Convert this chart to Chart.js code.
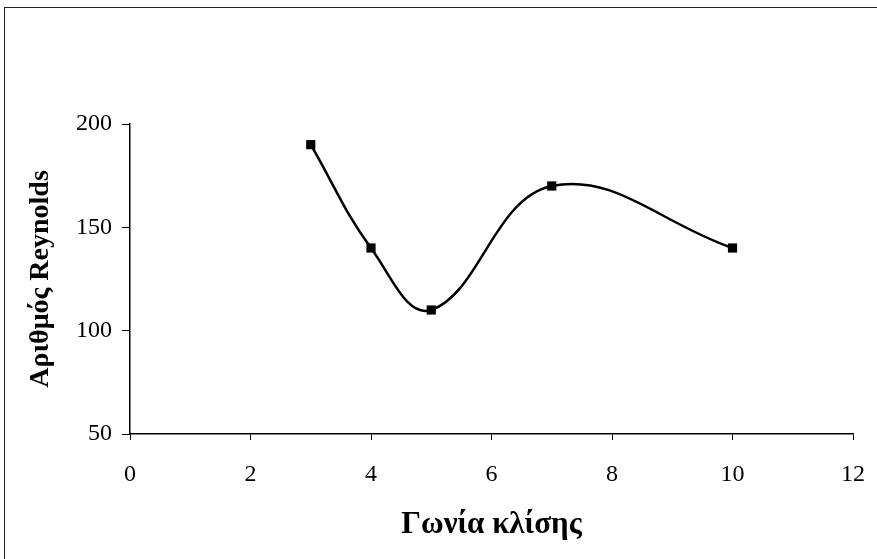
<!DOCTYPE html>
<html>
<head>
<meta charset="utf-8">
<script src="https://cdn.jsdelivr.net/npm/chart.js@4/dist/chart.umd.min.js"></script>
<style>
  html, body { margin: 0; padding: 0; background: #fff; }
  #wrap { position: relative; width: 877px; height: 559px; overflow: hidden; }
  #frame { position: absolute; left: 4px; top: 7px; width: 900px; height: 600px; border: 1px solid #222; }
  canvas { position: absolute; left: 0; top: 0; }
</style>
</head>
<body>
<div id="wrap">
  <div id="frame"></div>
  <canvas id="chart" width="877" height="559"></canvas>
</div>
<script>
// Data
const angles = [3, 4, 5, 7, 10];
const reynolds = [190, 140, 110, 170, 140];
const xTitle = 'Γωνία κλίσης';
const yTitle = 'Αριθμός Reynolds';

const points = angles.map((a, i) => ({ x: a, y: reynolds[i] }));

const serif = '"Liberation Serif", "Times New Roman", serif';
const tickFont = { family: serif, size: 24 };

const ctx = document.getElementById('chart').getContext('2d');
new Chart(ctx, {
  type: 'scatter',
  data: {
    datasets: [{
      data: points,
      showLine: true,
      tension: 0.4,
      borderColor: '#000',
      borderWidth: 2.5,
      backgroundColor: '#000',
      pointStyle: 'rect',
      pointRadius: 6.5,
      pointBorderWidth: 0
    }]
  },
  options: {
    responsive: false,
    animation: false,
    layout: { padding: { top: 124, right: 24, left: 0, bottom: 0 } },
    plugins: { legend: { display: false }, tooltip: { enabled: false } },
    scales: {
      x: {
        type: 'linear',
        min: 0, max: 12,
        ticks: { stepSize: 2, color: '#000', font: tickFont, padding: 20 },
        grid: { display: true, drawOnChartArea: false, drawTicks: true, tickLength: 6, color: '#000' },
        border: { color: '#000', width: 1.5 },
        title: { display: true, text: xTitle, color: '#000', font: { family: serif, size: 31, weight: 'bold' }, padding: { bottom: 15 } },
        afterFit: s => { s.height = 125; s.paddingLeft = 0; s.paddingRight = 0; }
      },
      y: {
        min: 50, max: 200,
        ticks: { stepSize: 50, color: '#000', font: tickFont, padding: 10 },
        grid: { display: true, drawOnChartArea: false, drawTicks: true, tickLength: 8, color: '#000' },
        border: { color: '#000', width: 1.5 },
        title: { display: true, text: yTitle, color: '#000', font: { family: serif, size: 28, weight: 'bold' }, padding: { top: 24 } },
        afterFit: s => { s.width = 130; s.paddingTop = 0; s.paddingBottom = 0; }
      }
    }
  }
});
</script>
</body>
</html>
